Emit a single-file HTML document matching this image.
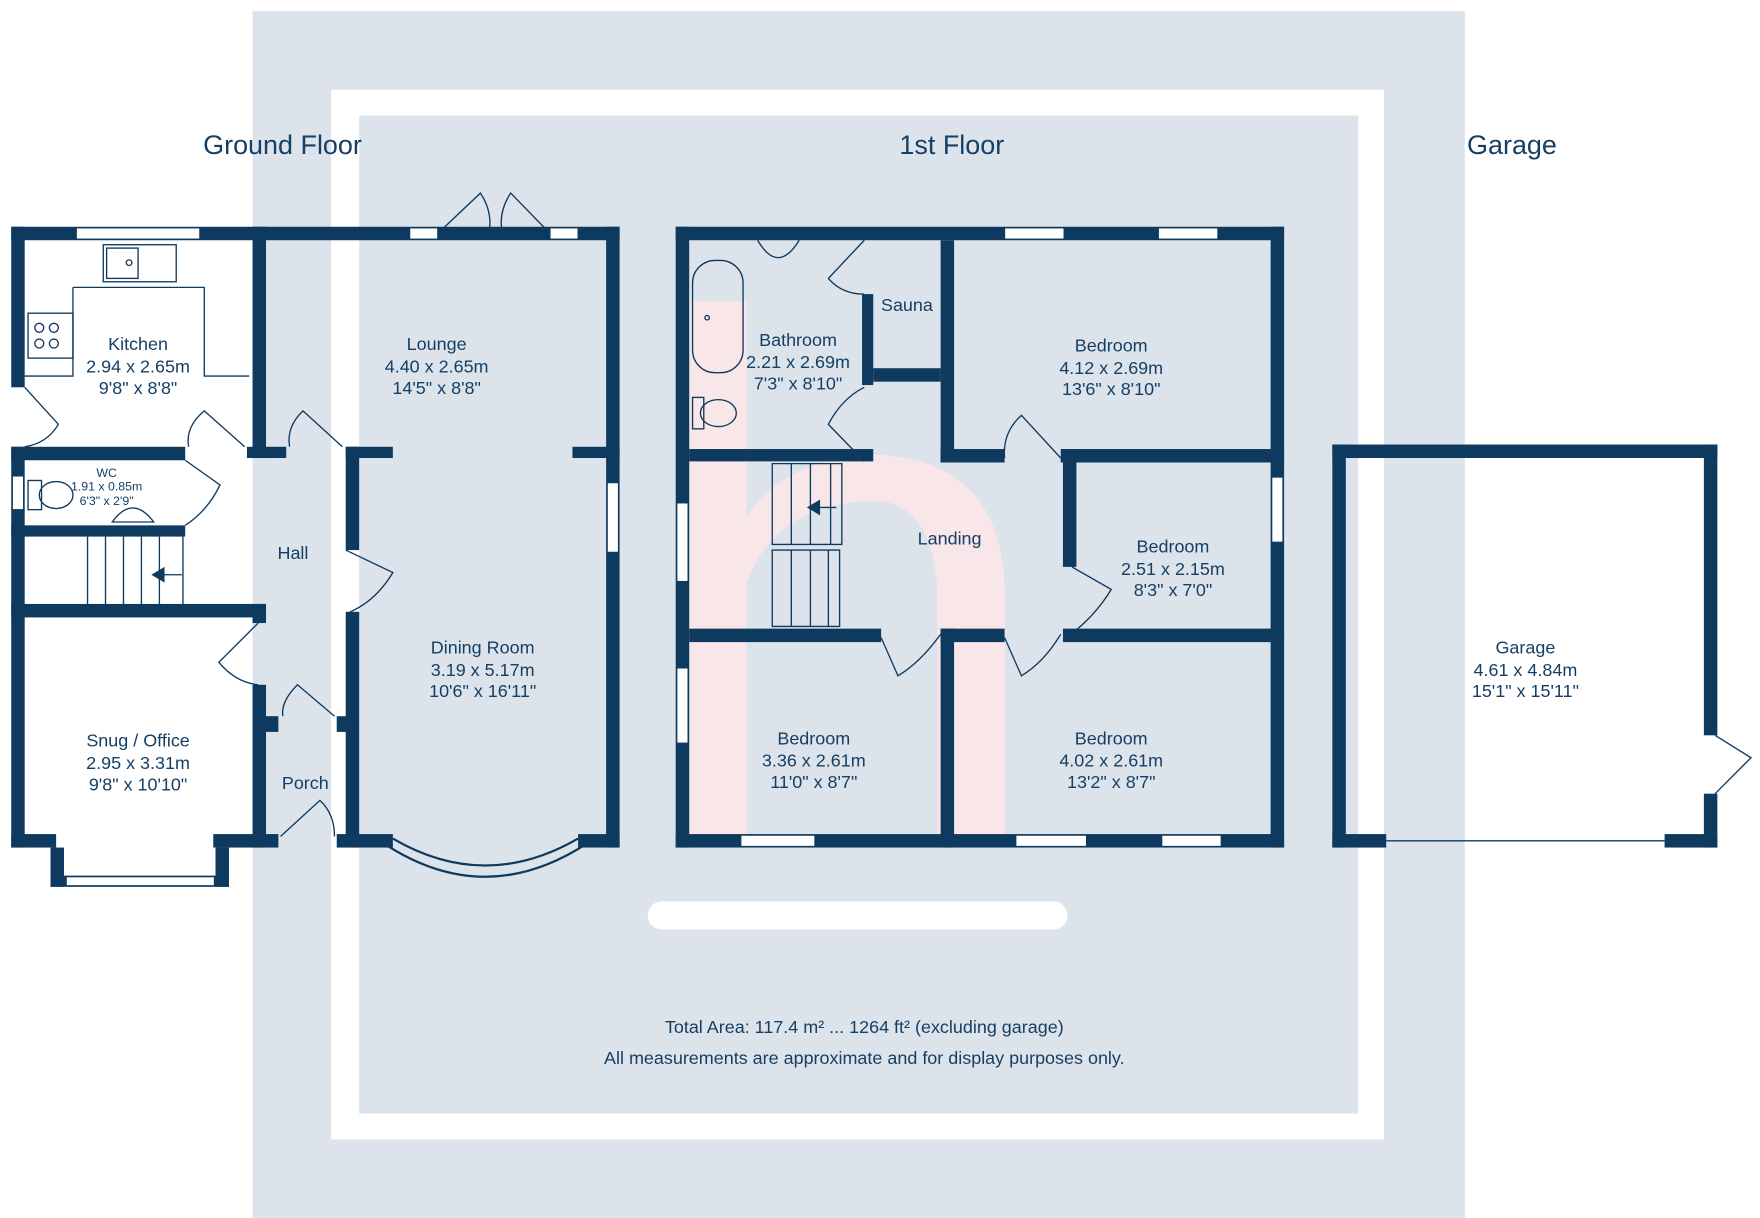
<!DOCTYPE html>
<html><head><meta charset="utf-8"><style>
html,body{margin:0;padding:0;background:#fff;width:1760px;height:1218px;overflow:hidden}
svg{display:block}
text{font-family:"Liberation Sans",sans-serif;fill:#163f66}
</style></head><body>
<svg width="1760" height="1218" viewBox="0 0 1568 1085" preserveAspectRatio="none">
<rect x="225" y="10" width="1080" height="1075" fill="#dce3ea"/>
<rect x="295" y="80" width="938" height="935" fill="#fff"/>
<rect x="320" y="103" width="890" height="889" fill="#dce3ea"/>
<!-- watermark h -->
<path d="M615 268 L665 268 L665 460 Q700 408 780 405 Q890 410 895 520 L895 745 L835 745 L835 525 Q830 448 780 446 Q690 448 665 520 L665 745 L615 745 Z" fill="#fde6e8" opacity="0.85"/>
<rect x="577" y="803" width="374" height="25" rx="12.5" fill="#fff"/>
<text x="181" y="137" font-size="24">Ground Floor</text>
<text x="848" y="137" font-size="24" text-anchor="middle">1st Floor</text>
<text x="1307" y="137" font-size="24">Garage</text>
<g fill="#0f3a5f">
<rect x="10" y="202" width="542" height="12"/>
<rect x="10" y="202" width="12" height="143"/>
<rect x="10" y="398" width="12" height="357"/>
<rect x="10" y="398" width="155" height="12"/>
<rect x="10" y="468" width="155" height="10"/>
<rect x="10" y="538" width="227" height="12"/>
<rect x="225" y="538" width="12" height="17"/>
<rect x="225" y="202" width="12" height="206"/>
<rect x="220" y="398" width="35" height="10"/>
<rect x="225" y="610" width="12" height="145"/>
<rect x="237" y="638" width="11" height="14"/>
<rect x="10" y="743" width="40" height="12"/>
<rect x="190" y="743" width="58" height="12"/>
<rect x="45" y="755" width="12" height="35"/>
<rect x="192" y="755" width="12" height="35"/>
<rect x="45" y="780" width="159" height="10"/>
<rect x="300" y="743" width="50" height="12"/>
<rect x="515" y="743" width="37" height="12"/>
<rect x="308" y="398" width="12" height="92"/>
<rect x="308" y="545" width="12" height="210"/>
<rect x="308" y="398" width="42" height="10"/>
<rect x="510" y="398" width="42" height="10"/>
<rect x="300" y="638" width="10" height="14"/>
<rect x="540" y="202" width="12" height="553"/>
<rect x="602" y="202" width="542" height="12"/>
<rect x="602" y="743" width="542" height="12"/>
<rect x="602" y="202" width="12" height="553"/>
<rect x="1132" y="202" width="12" height="553"/>
<rect x="614" y="400" width="164" height="11"/>
<rect x="768" y="262" width="10" height="81"/>
<rect x="778" y="328" width="60" height="12"/>
<rect x="838" y="214" width="12" height="198"/>
<rect x="838" y="400" width="57" height="12"/>
<rect x="945" y="400" width="199" height="12"/>
<rect x="947" y="400" width="12" height="105"/>
<rect x="947" y="560" width="197" height="12"/>
<rect x="614" y="560" width="171" height="12"/>
<rect x="838" y="560" width="57" height="12"/>
<rect x="838" y="560" width="12" height="195"/>
<rect x="1187" y="396" width="343" height="12"/>
<rect x="1187" y="396" width="12" height="359"/>
<rect x="1518" y="396" width="12" height="259"/>
<rect x="1518" y="707" width="12" height="48"/>
<rect x="1187" y="743" width="48" height="12"/>
<rect x="1483" y="743" width="47" height="12"/>
</g>
<g fill="#fff" stroke="#0f3a5f" stroke-width="1">
<rect x="68" y="203" width="110" height="10"/>
<rect x="365" y="203" width="25" height="10"/>
<rect x="490" y="203" width="25" height="10"/>
<rect x="541" y="430" width="10" height="62"/>
<rect x="11" y="424" width="10" height="30"/>
<rect x="59" y="781" width="132" height="8"/>
<rect x="895" y="203" width="53" height="10"/>
<rect x="1032" y="203" width="53" height="10"/>
<rect x="603" y="448" width="10" height="70"/>
<rect x="603" y="595" width="10" height="67"/>
<rect x="1133" y="425" width="10" height="58"/>
<rect x="660" y="744" width="66" height="10"/>
<rect x="905" y="744" width="63" height="10"/>
<rect x="1035" y="744" width="53" height="10"/>
</g>
<g fill="none" stroke="#0f3a5f" stroke-width="1.2">
<path d="M390 208 L428 172 Q440 190 435 210 M490 208 L455 172 Q443 190 448 210"/>
<path d="M22 345 L52 378 Q42 395 22 398"/>
<path d="M218 398 L182 366 Q165 380 168 398"/>
<path d="M305 398 L270 366 Q255 380 258 398"/>
<path d="M165 410 L196 432 Q185 455 165 468"/>
<path d="M230 555 L195 590 Q210 608 230 610"/>
<path d="M308 490 L350 510 Q335 535 312 545"/>
<path d="M298 638 L265 610 Q250 625 252 638"/>
<path d="M250 745 L285 713 Q298 725 298 745"/>
<path d="M343 752 Q432 810 522 752 M350 747 Q432 795 515 747" stroke-width="2"/>
<path d="M770 214 L738 248 Q750 262 770 262"/>
<path d="M770 411 L738 378 Q750 355 770 345"/>
<path d="M945 408 L910 370 Q893 385 895 408"/>
<path d="M955 505 L990 525 Q975 550 950 568"/>
<path d="M785 568 L800 602 Q820 590 838 565"/>
<path d="M895 568 L910 602 Q930 590 945 565"/>
<path d="M1528 655 L1560 675 L1528 707"/>
<line x1="1235" y1="749" x2="1483" y2="749"/>
<rect x="92" y="218" width="65" height="33"/>
<rect x="95" y="221" width="28" height="27"/>
<circle cx="115" cy="234" r="2.5"/>
<rect x="25" y="279" width="40" height="40"/>
<circle cx="35" cy="292" r="4"/><circle cx="48" cy="292" r="4"/><circle cx="35" cy="306" r="4"/><circle cx="48" cy="306" r="4"/>
<path d="M65 256 L182 256 L182 335 L222 335 M22 335 L65 335 L65 256"/>
<rect x="25" y="428" width="12" height="26"/><ellipse cx="50" cy="441" rx="15" ry="12"/>
<path d="M100 465 Q118 440 137 465 Z"/>
<path d="M78 478 L78 538 M94 478 L94 538 M110 478 L110 538 M126 478 L126 538 M142 478 L142 538 M163 478 L163 538"/>
<path d="M136 512 L162 512"/><path d="M136 512 L146 506 L146 518 Z" fill="#0f3a5f"/>
<rect x="617" y="232" width="45" height="100" rx="20"/>
<path d="M675 214 Q693 245 712 214"/>
<rect x="617" y="354" width="10" height="28"/><ellipse cx="640" cy="368" rx="16" ry="12"/>
<circle cx="630" cy="283" r="2"/>
<path d="M688 413 L750 413 L750 485 L688 485 Z M705 413 L705 485 M722 413 L722 485 M740 413 L740 485"/>
<path d="M688 490 L748 490 L748 558 L688 558 Z M705 490 L705 558 M722 490 L722 558 M738 490 L738 558"/>
<path d="M720 452 L745 452"/><path d="M720 452 L730 446 L730 458 Z" fill="#0f3a5f"/>
</g>
<g font-size="16" text-anchor="middle">
<text x="123" y="312">Kitchen</text><text x="123" y="332">2.94 x 2.65m</text><text x="123" y="351">9'8" x 8'8"</text>
<text x="389" y="312">Lounge</text><text x="389" y="332">4.40 x 2.65m</text><text x="389" y="351">14'5" x 8'8"</text>
<text x="95" y="425" font-size="11">WC</text><text x="95" y="437" font-size="11">1.91 x 0.85m</text><text x="95" y="450" font-size="11">6'3" x 2'9"</text>
<text x="261" y="498">Hall</text>
<text x="430" y="582">Dining Room</text><text x="430" y="602">3.19 x 5.17m</text><text x="430" y="621">10'6" x 16'11"</text>
<text x="123" y="665">Snug / Office</text><text x="123" y="685">2.95 x 3.31m</text><text x="123" y="704">9'8" x 10'10"</text>
<text x="272" y="703">Porch</text>
<text x="711" y="308">Bathroom</text><text x="711" y="328">2.21 x 2.69m</text><text x="711" y="347">7'3" x 8'10"</text>
<text x="808" y="277">Sauna</text>
<text x="990" y="313">Bedroom</text><text x="990" y="333">4.12 x 2.69m</text><text x="990" y="352">13'6" x 8'10"</text>
<text x="846" y="485">Landing</text>
<text x="1045" y="492">Bedroom</text><text x="1045" y="512">2.51 x 2.15m</text><text x="1045" y="531">8'3" x 7'0"</text>
<text x="725" y="663">Bedroom</text><text x="725" y="683">3.36 x 2.61m</text><text x="725" y="702">11'0" x 8'7"</text>
<text x="990" y="663">Bedroom</text><text x="990" y="683">4.02 x 2.61m</text><text x="990" y="702">13'2" x 8'7"</text>
<text x="1359" y="582">Garage</text><text x="1359" y="602">4.61 x 4.84m</text><text x="1359" y="621">15'1" x 15'11"</text>
<text x="770" y="920">Total Area: 117.4 m² ... 1264 ft² (excluding garage)</text>
<text x="770" y="948">All measurements are approximate and for display purposes only.</text>
</g>
</svg>
</body></html>
